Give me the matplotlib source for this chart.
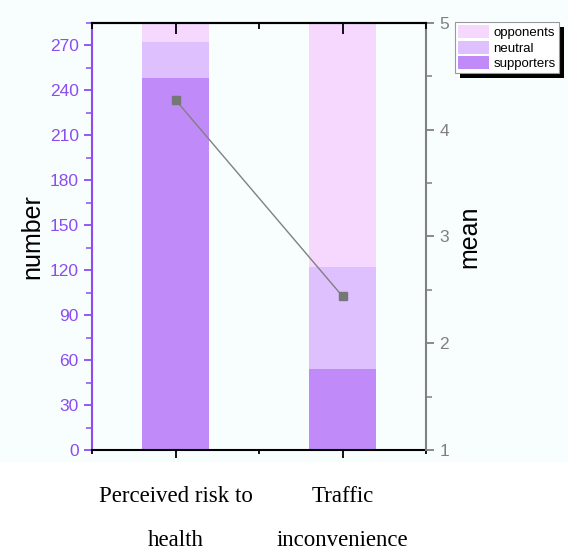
import numpy as np
import matplotlib.pyplot as plt
from matplotlib.patches import Rectangle
from matplotlib.ticker import MultipleLocator

plt.rcParams['font.family'] = ['Liberation Sans', 'DejaVu Sans']

categories = ['Perceived risk to\nhealth', 'Traffic\ninconvenience']
supporters = [248, 54]
neutral = [24, 68]
opponents = [13, 163]
means = [4.28, 2.44]

c_sup = '#C08AF8'
c_neu = '#DFC0FE'
c_opp = '#F6D7FD'
purple = '#8B4DF0'
grey = '#808080'
bg = '#F8FDFD'

rect = [92/568, (551-450)/551, (426-92)/568, (450-23)/551]
fig = plt.figure(figsize=(5.68, 5.51), dpi=100, facecolor='white')
fig.patches.append(Rectangle((0, 89/551), 1, 1 - 89/551, transform=fig.transFigure,
                             facecolor=bg, edgecolor='none', zorder=-10))
ax = fig.add_axes(rect)
ax.set_facecolor(bg)

x = np.arange(len(categories))
w = 0.4
ax.bar(x, supporters, w, color=c_sup, label='supporters')
ax.bar(x, neutral, w, bottom=supporters, color=c_neu, label='neutral')
ax.bar(x, opponents, w, bottom=np.add(supporters, neutral), color=c_opp, label='opponents')

ax.set_xlim(-0.5, 1.5)
ax.set_ylim(0, 285)
ax.yaxis.set_major_locator(MultipleLocator(30))
ax.yaxis.set_minor_locator(MultipleLocator(15))
ax.xaxis.set_minor_locator(MultipleLocator(0.5))
ax.set_xticks(x)
ax.set_xticklabels(categories, fontfamily='Liberation Serif', fontsize=16.5, linespacing=2.45)

ax.spines['left'].set_color(purple)
ax.spines['left'].set_linewidth(1.5)
ax.spines['right'].set_visible(False)
ax.spines['top'].set_linewidth(1.5)
ax.spines['bottom'].set_linewidth(1.5)
ax.tick_params(axis='y', colors=purple, labelsize=12.5, length=6, width=1.3, direction='out')
ax.tick_params(axis='y', which='minor', colors=purple, length=4, width=1.1)
ax.tick_params(axis='x', which='both', direction='out', width=1.3)
ax.tick_params(axis='x', which='major', length=6, pad=20)
ax.tick_params(axis='x', which='minor', length=3)
ax.set_ylabel('number', fontsize=18, labelpad=4)

ax2 = ax.twinx()
ax2.plot(x, means, color=grey, lw=1, marker='s', ms=6, mfc='#777777', mec='#777777')
ax2.set_ylim(1, 5)
ax2.yaxis.set_major_locator(MultipleLocator(1))
ax2.yaxis.set_minor_locator(MultipleLocator(0.5))
for s in ['left', 'top', 'bottom']:
    ax2.spines[s].set_visible(False)
ax2.spines['right'].set_color(grey)
ax2.spines['right'].set_linewidth(1.5)
ax2.tick_params(axis='y', colors=grey, labelsize=12.5, length=6, width=1.3)
ax2.tick_params(axis='y', which='minor', colors=grey, length=4, width=1.1)
ax2.set_ylabel('mean', fontsize=18, labelpad=6)

# twiny axis carries the inward ticks along the top edge, drawn above the bars
ax3 = ax.twiny()
ax3.set_xlim(ax.get_xlim())
ax3.set_xticks(x)
ax3.xaxis.set_minor_locator(MultipleLocator(0.5))
for s in ['left', 'right', 'bottom']:
    ax3.spines[s].set_visible(False)
ax3.spines['top'].set_linewidth(1.5)
ax3.tick_params(axis='x', which='both', direction='in', labeltop=False, width=1.3, color='black')
ax3.tick_params(axis='x', which='major', length=8)
ax3.tick_params(axis='x', which='minor', length=4)

h, l = ax.get_legend_handles_labels()
leg = fig.legend(h[::-1], l[::-1], loc='upper left', bbox_to_anchor=(455/568, 1 - 22/551),
                 fontsize=9.5, frameon=True, fancybox=False,
                 handlelength=2.3, handleheight=1.15, borderpad=0.25, labelspacing=0.1,
                 handletextpad=0.35, borderaxespad=0)
leg.get_frame().set_edgecolor('#999999')
leg.get_frame().set_linewidth(0.8)
leg.get_frame().set_alpha(1)
leg.set_zorder(5)

fig.canvas.draw()
bb = leg.get_window_extent()
W, H = fig.bbox.width, fig.bbox.height
fig.patches.append(Rectangle(((bb.x0 + 5) / W, (bb.y0 - 5) / H), bb.width / W, bb.height / H,
                             transform=fig.transFigure, facecolor='black', edgecolor='none', zorder=4))

fig.savefig('out.png', dpi=100, facecolor=fig.get_facecolor())
